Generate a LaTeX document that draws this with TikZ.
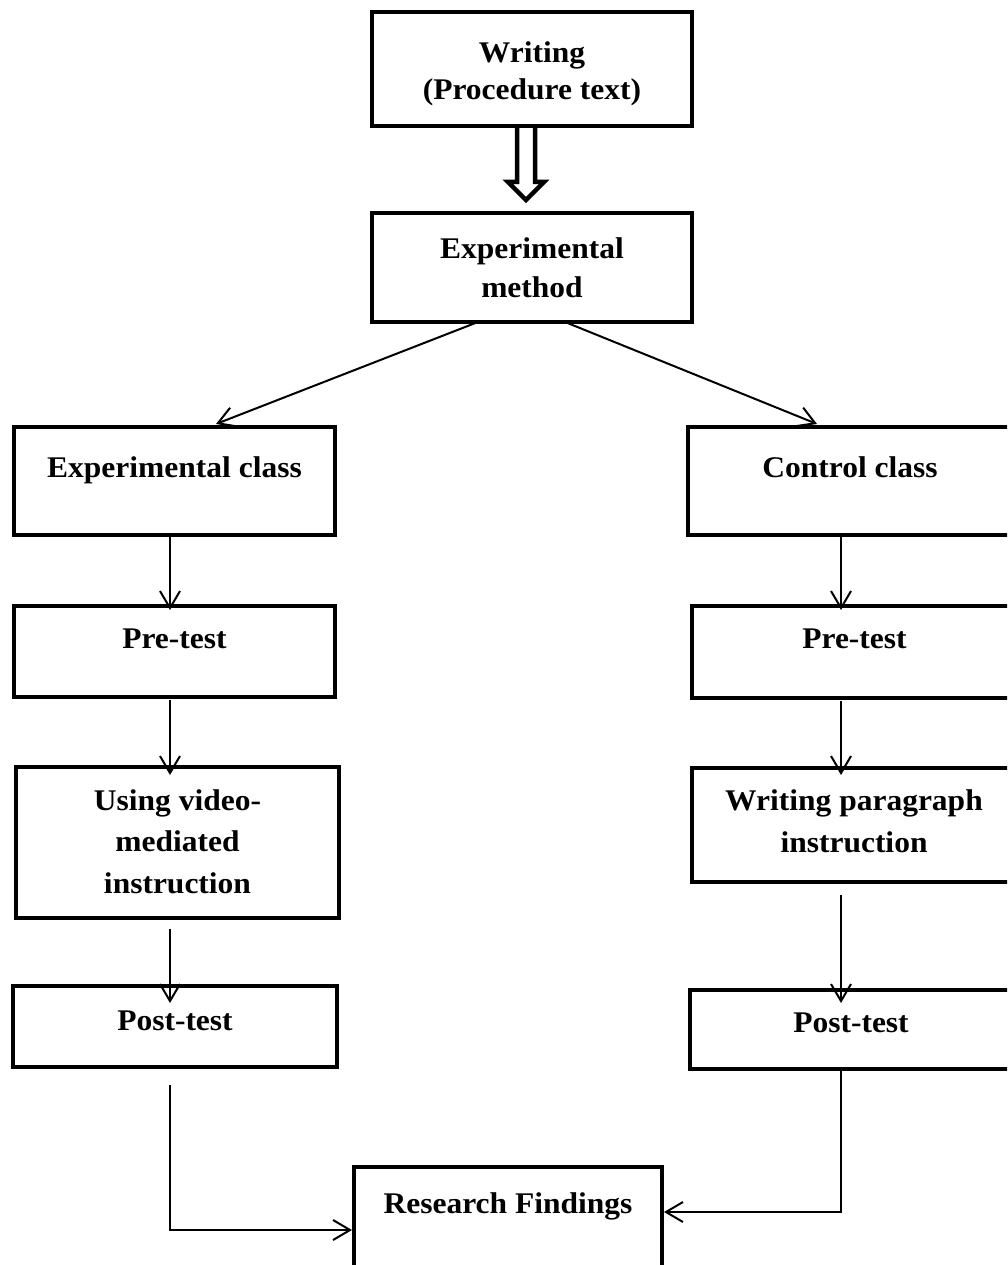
\documentclass[tikz,border=0pt]{standalone}
\usepackage{fontspec}
\setmainfont[FakeStretch=1.05]{Liberation Serif}
\usetikzlibrary{arrows.meta,calc}
\newcommand\bx[4]{\parbox[c][#2pt][t]{#1pt}{\centering\rule{0pt}{#3pt}#4}}
\begin{document}
\begin{tikzpicture}[x=1pt,y=-1pt,
  box/.style={draw, line width=4.5pt, inner sep=0pt, outer sep=0pt, anchor=north west,
    font=\fontsize{30pt}{40pt}\selectfont\bfseries},
  conn/.style={line width=2pt, -{Straight Barb[length=17pt,width=20pt]}},
  hollow/.style={line width=4.5pt, line join=miter}]
\fill[white] (0,0) rectangle (1007,1265);
\useasboundingbox (0,0) rectangle (1007,1265);
\clip (0,0) rectangle (1007,1265);

\node[box] (writing) at (372,12) {\bx{320}{114}{51}{Writing\\[-3pt](Procedure text)}};
\node[box] (method) at (372,213) {\bx{320}{109}{45}{Experimental\\[-1pt]method}};
\node[box] (eclass) at (14,427) {\bx{321}{108}{50}{Experimental class}};
\node[box] (cclass) at (688,427) {\bx{324}{108}{50}{Control class}};
\node[box] (epre) at (14,606) {\bx{321}{91}{42}{Pre-test}};
\node[box] (cpre) at (692,606) {\bx{325}{92}{42}{Pre-test}};
\node[box] (evideo) at (16,767) {\bx{323}{151}{43}{Using video-\\[1.5pt]mediated\\[1.5pt]instruction}};
\node[box] (cpara) at (692,768) {\bx{324}{114}{42}{Writing paragraph\\[2pt]instruction}};
\node[box] (epost) at (13,986) {\bx{324}{81}{44}{Post-test}};
\node[box] (cpost) at (690,990) {\bx{322}{79}{42}{Post-test}};
\node[box] (findings) at (354,1167) {\bx{308}{140}{46}{Research Findings}};

\coordinate (lx) at (170,0);
\coordinate (rx) at (841,0);

% hollow double arrow
\draw[hollow] ([xshift=-15pt]writing.south) -- ++(0,56) -- ++(-9,0) -- ++(18,18)
  -- ++(18,-18) -- ++(-9,0) -- ([xshift=3pt]writing.south);

% diagonals
\draw[conn] ([xshift=-54pt]method.south) -- ([xshift=41.5pt,yshift=3pt]eclass.north);
\draw[conn] ([xshift=33pt]method.south) -- ([xshift=-33pt,yshift=3pt]cclass.north);

% left column
\draw[conn] (eclass.south -| lx) -- ($(epre.north -| lx)+(0,4)$);
\draw[conn] ($(epre.south -| lx)+(0,3)$) -- ($(evideo.north -| lx)+(0,8)$);
\draw[conn] ($(evideo.south -| lx)+(0,11)$) -- ($(epost.north -| lx)+(0,17)$);
\draw[conn] ($(epost.south -| lx)+(0,18)$) |- ($(findings.north west)+(-2,63)$);

% right column
\draw[conn] (cclass.south -| rx) -- ($(cpre.north -| rx)+(0,4)$);
\draw[conn] ($(cpre.south -| rx)+(0,3)$) -- ($(cpara.north -| rx)+(0,7)$);
\draw[conn] ($(cpara.south -| rx)+(0,13)$) -- ($(cpost.north -| rx)+(0,13)$);
\draw[conn] (cpost.south -| rx) |- ($(findings.north east)+(2,45)$);
\end{tikzpicture}
\end{document}
